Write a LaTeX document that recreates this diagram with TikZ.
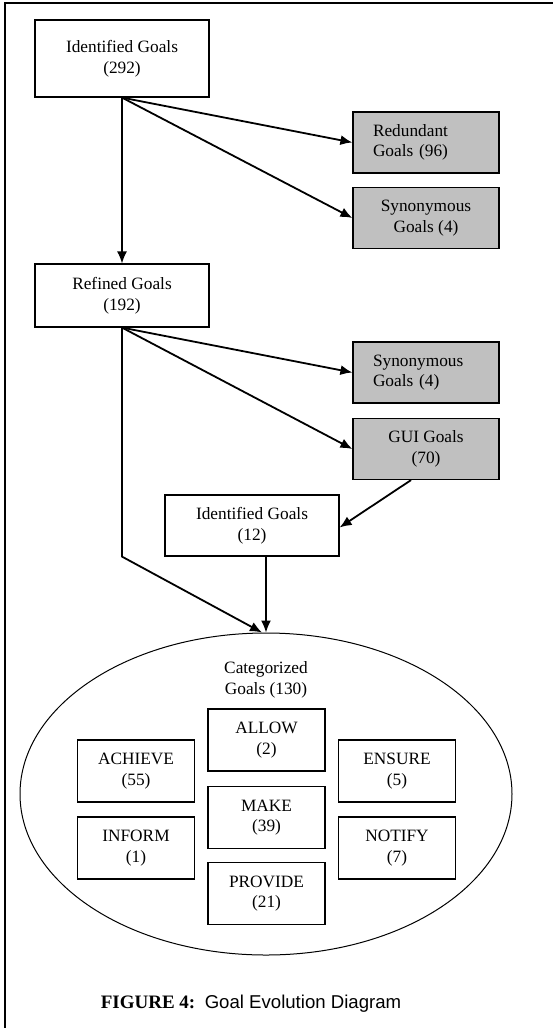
\documentclass[tikz,border=0pt]{standalone}
\usepackage{fontspec}
\setmainfont{Liberation Serif}
\newfontfamily\capsans{Liberation Sans}
\usetikzlibrary{shapes.geometric, arrows.meta, positioning}
\definecolor{boxgrey}{HTML}{C0C0C0}
\tikzstyle{block} = [draw, fill=white, rectangle, line width=1.2pt, align=center, inner sep=0pt]
\tikzstyle{goalbox} = [block, minimum width=174pt]
\tikzstyle{greyblock} = [block, fill=boxgrey, minimum width=146pt, minimum height=61pt]
\tikzstyle{greyleft} = [greyblock, align=left, text width=106pt, inner xsep=20pt]
\tikzstyle{catbox} = [block, minimum width=117pt, minimum height=62pt]
\tikzstyle{flow} = [line width=1.8pt, -{Latex[length=12pt,width=10pt]}]

\begin{document}
\begin{tikzpicture}[x=1pt, y=-1pt, font=\fontsize{17.3pt}{20.5pt}\selectfont]
    \useasboundingbox (0,0) rectangle (553,1028);
    \draw[line width=1.2pt] (5,1028) -- (5,3) -- (553,3);
    % first pass
    \node[goalbox, minimum height=77pt] (idgoals) at (122,58.5) {Identified Goals\\(292)};
    \node[goalbox, minimum height=63pt, below of=idgoals, node distance=237pt] (refined) {Refined Goals\\(192)};
    \node[greyleft] (redundant) at (426,142.5) {Redundant\\Goals (96)};
    \node[greyblock, below of=redundant, node distance=75.5pt] (synfirst) {Synonymous\\Goals (4)};
    % second pass
    \node[greyleft] (synsecond) at (426,372.5) {Synonymous\\Goals (4)};
    \node[greyblock, below of=synsecond, node distance=76.5pt] (gui) {GUI Goals\\(70)};
    \node[goalbox, minimum height=61pt] (idnew) at (252,525.5) {Identified Goals\\(12)};
    % categories
    \node[draw, ellipse, line width=1pt, minimum width=492pt, minimum height=322pt] (cat) at (266,794) {};
    \node[align=center] (catname) at (266,680) {Categorized\\Goals (130)};
    \node[catbox] (allow) at (266.5,740) {ALLOW\\(2)};
    \node[catbox, below of=allow, node distance=77.5pt] (make) {MAKE\\(39)};
    \node[catbox, below of=make, node distance=76pt] (provide) {PROVIDE\\(21)};
    \node[catbox] (achieve) at (136,771) {ACHIEVE\\(55)};
    \node[catbox, below of=achieve, node distance=77pt] (inform) {INFORM\\(1)};
    \node[catbox, right of=achieve, node distance=261pt] (ensure) {ENSURE\\(5)};
    \node[catbox, below of=ensure, node distance=77pt] (notify) {NOTIFY\\(7)};
    \node[anchor=base] (caption) at (251,1008) {\fontsize{19pt}{22pt}\selectfont\textbf{FIGURE 4:}\ \ {\capsans\fontsize{18.6pt}{22pt}\selectfont Goal Evolution Diagram}};
    % connectors
    \draw[flow, line width=1.4pt] (idgoals.south) -- (refined.north);
    \draw[flow] (idgoals.south) -- (redundant.west);
    \draw[flow] (idgoals.south) -- (synfirst.west);
    \draw[flow] (refined.south) -- (synsecond.west);
    \draw[flow] (refined.south) -- (gui.west);
    \draw[flow] ([xshift=-15pt]gui.south) -- ([yshift=-2pt]idnew.east);
    \draw[flow] (refined.south) -- (refined.south |- idnew.south) -- ([xshift=-4pt]cat.north);
    \draw[flow, line width=1.4pt] (cat.north |- idnew.south) -- (cat.north);
\end{tikzpicture}
\end{document}
